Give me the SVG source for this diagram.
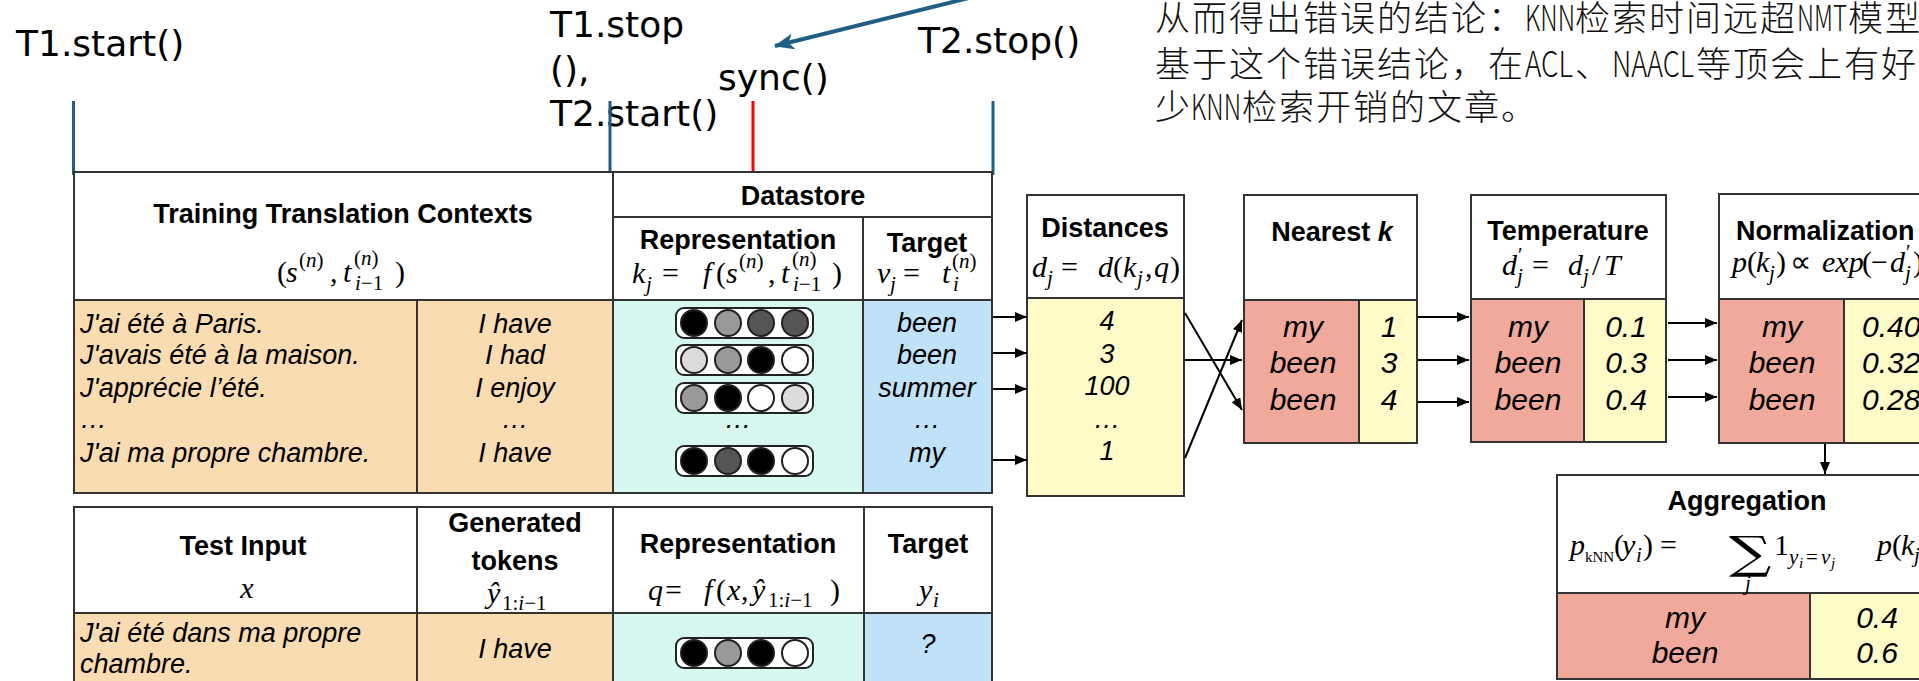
<svg xmlns="http://www.w3.org/2000/svg" width="1919" height="681" viewBox="0 0 1919 681">
  <style>
    .note { font-family: "DejaVu Sans", sans-serif; font-size: 36px; fill: #000; }
    .zh { font-family: "Noto Sans CJK SC", sans-serif; font-size: 35px; font-weight: 300; letter-spacing: 2px; fill: #111; }
    .zh .lat { letter-spacing: 0; }
    .hd { font-family: "Liberation Sans", Arial, sans-serif; font-weight: bold; font-size: 27px; text-anchor: middle; fill: #000; }
    .dt { font-family: "Liberation Sans", Arial, sans-serif; font-style: italic; font-size: 27px; fill: #000; }
    .dv { font-family: "Liberation Sans", Arial, sans-serif; font-style: italic; font-size: 30px; fill: #000; text-anchor: middle; }
    .c { text-anchor: middle; }
    .hd.l, .dv.l { text-anchor: start; }
    .mr { font-family: "Liberation Serif", "Times New Roman", serif; font-size: 30px; font-style: normal; fill: #000; }
    .it { font-style: italic; }
    .sc { font-size: 21px; }
    .ss { font-size: 15px; }
    .op { font-family: "DejaVu Serif", serif; font-size: 44px; font-style: normal; fill: #000; }
    .cell { stroke: #333; stroke-width: 2; }
    .w { fill: #fff; }
    .or { fill: #f9dcb2; }
    .cy { fill: #d6f8f0; }
    .bl { fill: #c0e2f9; }
    .ye { fill: #fefbc9; }
    .rd { fill: #f0a99b; }
    .vec { fill: #fff; stroke: #222; stroke-width: 2; }
    .dot { stroke: #222; stroke-width: 2; }
    .k0 { fill: #000; }
    .k1 { fill: #555; }
    .k2 { fill: #999; }
    .k3 { fill: #dcdcdc; }
    .k4 { fill: #fff; }
    .flow { stroke: #000; stroke-width: 2; fill: none; marker-end: url(#ah); }
    .tick { stroke: #1d5f86; stroke-width: 3; }
  </style>
  <defs>
    <marker id="ah" viewBox="0 0 12 10" refX="12" refY="5" markerWidth="12" markerHeight="10" markerUnits="userSpaceOnUse" orient="auto">
      <path d="M0,0 L12,5 L0,10 z" fill="#000"/>
    </marker>
    <marker id="ahb" viewBox="0 0 20 16" refX="19" refY="8" markerWidth="20" markerHeight="16" markerUnits="userSpaceOnUse" orient="auto">
      <path d="M0,0 L20,8 L0,16 L5,8 z" fill="#1d5f86"/>
    </marker>
    <g id="vecbox"><rect class="vec" x="0" y="0" width="137" height="30" rx="8"/></g>
  </defs>

  <rect width="1919" height="681" fill="#fff"/>

  <!-- timing annotations above the figure -->
  <g id="timing">
    <text class="note" x="16" y="56">T1.start()</text>
    <text class="note" x="550" y="37">T1.stop</text>
    <text class="note" x="550" y="82">(),</text>
    <text class="note" x="550" y="126">T2.start()</text>
    <text class="note" x="718" y="90">sync()</text>
    <text class="note" x="918" y="53">T2.stop()</text>
    <line class="tick" x1="73.5" y1="101" x2="73.5" y2="175"/>
    <line class="tick" x1="610" y1="101" x2="610" y2="175"/>
    <line class="tick" x1="993" y1="101" x2="993" y2="175"/>
    <line x1="753" y1="101" x2="753" y2="173" stroke="#ff0000" stroke-width="3"/>
  </g>

  <!-- commentary text, top right -->
  <g id="comment">
    <text class="zh" y="31"><tspan x="1155">从而得出错误的结论：</tspan><tspan class="lat" x="1525" textLength="50" lengthAdjust="spacingAndGlyphs">KNN</tspan><tspan x="1575">检索时间远超</tspan><tspan class="lat" x="1797" textLength="50" lengthAdjust="spacingAndGlyphs">NMT</tspan><tspan x="1848">模型</tspan></text>
    <text class="zh" y="77"><tspan x="1155">基于这个错误结论，在</tspan><tspan class="lat" x="1525" textLength="48" lengthAdjust="spacingAndGlyphs">ACL</tspan><tspan x="1575">、</tspan><tspan class="lat" x="1612" textLength="82" lengthAdjust="spacingAndGlyphs">NAACL</tspan><tspan x="1696">等顶会上有好</tspan></text>
    <text class="zh" y="120"><tspan x="1155">少</tspan><tspan class="lat" x="1191" textLength="50" lengthAdjust="spacingAndGlyphs">KNN</tspan><tspan x="1242">检索开销的文章。</tspan></text>
  </g>

  <!-- training contexts -->
  <g id="training">
    <rect class="cell w" x="74" y="172" width="539" height="128"/>
    <rect class="cell or" x="74" y="300" width="539" height="193"/>
    <line class="cell" x1="417" y1="300" x2="417" y2="493"/>
    <text class="hd" x="343" y="223">Training Translation Contexts</text>
    <text class="mr" y="282"><tspan x="277">(</tspan><tspan class="it" x="286">s</tspan><tspan class="sc" x="299" y="267">(<tspan class="it">n</tspan>)</tspan><tspan x="330" y="282">,</tspan><tspan class="it" x="343">t</tspan><tspan class="sc" x="354" y="265">(<tspan class="it">n</tspan>)</tspan><tspan class="sc" x="355" y="290"><tspan class="it">i</tspan>−1</tspan><tspan x="395" y="282">)</tspan></text>
    <text class="dt" x="80" y="333">J'ai été à Paris.</text>
    <text class="dt" x="80" y="364">J'avais été à la maison.</text>
    <text class="dt" x="80" y="397">J'apprécie l’été.</text>
    <text class="dt" x="80" y="428">…</text>
    <text class="dt" x="80" y="462">J'ai ma propre chambre.</text>
    <text class="dt c" x="515" y="333">I have</text>
    <text class="dt c" x="515" y="364">I had</text>
    <text class="dt c" x="515" y="397">I enjoy</text>
    <text class="dt c" x="515" y="428">…</text>
    <text class="dt c" x="515" y="462">I have</text>
  </g>

  <!-- datastore -->
  <g id="datastore">
    <rect class="cell w" x="613" y="172" width="379" height="45"/>
    <rect class="cell w" x="613" y="217" width="379" height="83"/>
    <line class="cell" x1="863" y1="217" x2="863" y2="300"/>
    <rect class="cell cy" x="613" y="300" width="250" height="193"/>
    <rect class="cell bl" x="863" y="300" width="129" height="193"/>
    <text class="hd" x="803" y="205">Datastore</text>
    <text class="hd" x="738" y="249">Representation</text>
    <text class="hd" x="927" y="252">Target</text>
    <text class="mr" y="283"><tspan class="it" x="632">k</tspan><tspan class="sc it" x="646" y="291">j</tspan><tspan x="662" y="283">=</tspan><tspan class="it" x="703">f</tspan><tspan x="716">(</tspan><tspan class="it" x="726">s</tspan><tspan class="sc" x="739" y="268">(<tspan class="it">n</tspan>)</tspan><tspan x="768" y="283">,</tspan><tspan class="it" x="781">t</tspan><tspan class="sc" x="792" y="266">(<tspan class="it">n</tspan>)</tspan><tspan class="sc" x="793" y="291"><tspan class="it">i</tspan>−1</tspan><tspan x="832" y="283">)</tspan></text>
    <text class="mr" y="283"><tspan class="it" x="877">v</tspan><tspan class="sc it" x="890" y="291">j</tspan><tspan x="903" y="283">=</tspan><tspan class="it" x="942">t</tspan><tspan class="sc" x="952" y="268">(<tspan class="it">n</tspan>)</tspan><tspan class="sc it" x="953" y="291">i</tspan></text>

    <use href="#vecbox" x="676" y="308"/>
    <circle class="dot k0" cx="694" cy="323" r="13"/><circle class="dot k2" cx="728" cy="323" r="13"/><circle class="dot k1" cx="761" cy="323" r="13"/><circle class="dot k1" cx="795" cy="323" r="13"/>
    <use href="#vecbox" x="676" y="345"/>
    <circle class="dot k3" cx="694" cy="360" r="13"/><circle class="dot k2" cx="728" cy="360" r="13"/><circle class="dot k0" cx="761" cy="360" r="13"/><circle class="dot k4" cx="795" cy="360" r="13"/>
    <use href="#vecbox" x="676" y="383"/>
    <circle class="dot k2" cx="694" cy="398" r="13"/><circle class="dot k0" cx="728" cy="398" r="13"/><circle class="dot k4" cx="761" cy="398" r="13"/><circle class="dot k3" cx="795" cy="398" r="13"/>
    <text class="dt c" x="738" y="428">…</text>
    <use href="#vecbox" x="676" y="446"/>
    <circle class="dot k0" cx="694" cy="461" r="13"/><circle class="dot k1" cx="728" cy="461" r="13"/><circle class="dot k0" cx="761" cy="461" r="13"/><circle class="dot k4" cx="795" cy="461" r="13"/>

    <text class="dt c" x="927" y="332">been</text>
    <text class="dt c" x="927" y="364">been</text>
    <text class="dt c" x="927" y="397">summer</text>
    <text class="dt c" x="927" y="428">…</text>
    <text class="dt c" x="927" y="462">my</text>
  </g>

  <!-- test input -->
  <g id="test">
    <rect class="cell w" x="74" y="507" width="918" height="106"/>
    <rect class="cell or" x="74" y="613" width="539" height="90"/>
    <rect class="cell cy" x="613" y="613" width="251" height="90"/>
    <rect class="cell bl" x="864" y="613" width="128" height="90"/>
    <line class="cell" x1="417" y1="507" x2="417" y2="703"/>
    <line class="cell" x1="613" y1="507" x2="613" y2="613"/>
    <line class="cell" x1="864" y1="507" x2="864" y2="613"/>
    <text class="hd" x="243" y="555">Test Input</text>
    <text class="mr it c" x="247" y="598">x</text>
    <text class="hd" x="515" y="532">Generated</text>
    <text class="hd" x="515" y="570">tokens</text>
    <text class="mr" y="603"><tspan class="it" x="487">ŷ</tspan><tspan class="sc" x="502" y="610">1:<tspan class="it">i</tspan>−1</tspan></text>
    <text class="hd" x="738" y="553">Representation</text>
    <text class="hd" x="928" y="553">Target</text>
    <text class="mr" y="600"><tspan class="it" x="648">q</tspan><tspan x="665">=</tspan><tspan class="it" x="704">f</tspan><tspan x="716">(</tspan><tspan class="it" x="727">x</tspan><tspan x="741">,</tspan><tspan class="it" x="752">ŷ</tspan><tspan class="sc" x="768" y="607">1:<tspan class="it">i</tspan>−1</tspan><tspan x="830" y="600">)</tspan></text>
    <text class="mr" y="600"><tspan class="it" x="919">y</tspan><tspan class="sc it" x="933" y="607">i</tspan></text>
    <text class="dt" x="80" y="642">J'ai été dans ma propre</text>
    <text class="dt" x="80" y="673">chambre.</text>
    <text class="dt c" x="515" y="658">I have</text>
    <use href="#vecbox" x="676" y="638"/>
    <circle class="dot k0" cx="694" cy="653" r="13"/><circle class="dot k2" cx="728" cy="653" r="13"/><circle class="dot k0" cx="761" cy="653" r="13"/><circle class="dot k4" cx="795" cy="653" r="13"/>
    <text class="dt c" x="928" y="653">?</text>
  </g>

  <!-- distances -->
  <g id="distances">
    <rect class="cell w" x="1027" y="195" width="157" height="103"/>
    <rect class="cell ye" x="1027" y="298" width="157" height="198"/>
    <text class="hd" x="1105" y="237">Distances</text>
    <text class="mr" y="277"><tspan class="it" x="1032">d</tspan><tspan class="sc it" x="1047" y="285">j</tspan><tspan x="1061" y="277">=</tspan><tspan class="it" x="1098">d</tspan><tspan x="1113">(</tspan><tspan class="it" x="1123">k</tspan><tspan class="sc it" x="1137" y="285">j</tspan><tspan x="1145" y="277">,</tspan><tspan class="it" x="1154">q</tspan><tspan x="1170">)</tspan></text>
    <text class="dt c" x="1107" y="330">4</text>
    <text class="dt c" x="1107" y="363">3</text>
    <text class="dt c" x="1107" y="395">100</text>
    <text class="dt c" x="1107" y="428">…</text>
    <text class="dt c" x="1107" y="460">1</text>
  </g>

  <!-- nearest k -->
  <g id="nearest">
    <rect class="cell w" x="1244" y="195" width="173" height="105"/>
    <rect class="cell rd" x="1244" y="300" width="115" height="143"/>
    <rect class="cell ye" x="1359" y="300" width="58" height="143"/>
    <text class="hd" x="1332" y="241">Nearest <tspan font-style="italic">k</tspan></text>
    <text class="dv" x="1303" y="337">my</text>
    <text class="dv" x="1303" y="373">been</text>
    <text class="dv" x="1303" y="410">been</text>
    <text class="dv" x="1389" y="337">1</text>
    <text class="dv" x="1389" y="373">3</text>
    <text class="dv" x="1389" y="410">4</text>
  </g>

  <!-- temperature -->
  <g id="temperature">
    <rect class="cell w" x="1471" y="195" width="195" height="104"/>
    <rect class="cell rd" x="1471" y="299" width="113" height="143"/>
    <rect class="cell ye" x="1584" y="299" width="82" height="143"/>
    <text class="hd" x="1568" y="240">Temperature</text>
    <text class="mr" y="275"><tspan class="it" x="1502">d</tspan><tspan class="sc" x="1518" y="262">′</tspan><tspan class="sc it" x="1517" y="283">j</tspan><tspan x="1532" y="275">=</tspan><tspan class="it" x="1568">d</tspan><tspan class="sc it" x="1583" y="283">j</tspan><tspan x="1592" y="275">/</tspan><tspan class="it" x="1604">T</tspan></text>
    <text class="dv" x="1528" y="337">my</text>
    <text class="dv" x="1528" y="373">been</text>
    <text class="dv" x="1528" y="410">been</text>
    <text class="dv" x="1626" y="337">0.1</text>
    <text class="dv" x="1626" y="373">0.3</text>
    <text class="dv" x="1626" y="410">0.4</text>
  </g>

  <!-- normalization -->
  <g id="normalization">
    <rect class="cell w" x="1719" y="194" width="230" height="105"/>
    <rect class="cell rd" x="1719" y="299" width="125" height="144"/>
    <rect class="cell ye" x="1844" y="299" width="105" height="144"/>
    <text class="hd l" x="1736" y="240">Normalization</text>
    <text class="mr" y="272"><tspan class="it" x="1732">p</tspan><tspan x="1747">(</tspan><tspan class="it" x="1756">k</tspan><tspan class="sc it" x="1769" y="280">j</tspan><tspan x="1776" y="272">)</tspan><tspan x="1790">∝</tspan><tspan class="it" x="1822">exp</tspan><tspan x="1862">(</tspan><tspan x="1871">−</tspan><tspan class="it" x="1890">d</tspan><tspan class="sc" x="1906" y="259">′</tspan><tspan class="sc it" x="1905" y="280">j</tspan><tspan x="1913" y="272">)</tspan></text>
    <text class="dv" x="1782" y="337">my</text>
    <text class="dv" x="1782" y="373">been</text>
    <text class="dv" x="1782" y="410">been</text>
    <text class="dv l" x="1862" y="337">0.40</text>
    <text class="dv l" x="1862" y="373">0.32</text>
    <text class="dv l" x="1862" y="410">0.28</text>
  </g>

  <!-- aggregation -->
  <g id="aggregation">
    <rect class="cell w" x="1557" y="475" width="392" height="118"/>
    <rect class="cell rd" x="1557" y="593" width="253" height="86"/>
    <rect class="cell ye" x="1810" y="593" width="139" height="86"/>
    <text class="hd" x="1747" y="510">Aggregation</text>
    <text class="mr" y="555"><tspan class="it" x="1570">p</tspan><tspan class="ss" x="1585" y="562">kNN</tspan><tspan x="1614" y="555">(</tspan><tspan class="it" x="1622">y</tspan><tspan class="sc it" x="1636" y="562">i</tspan><tspan x="1643" y="555">)</tspan><tspan x="1660">=</tspan><tspan class="sc it" x="1745" y="590">j</tspan><tspan x="1774" y="555">1</tspan><tspan class="sc it" x="1789" y="564">y</tspan><tspan class="ss it" x="1799" y="568">i</tspan><tspan class="sc" x="1806" y="564">=</tspan><tspan class="sc it" x="1821">v</tspan><tspan class="ss it" x="1831" y="568">j</tspan><tspan class="it" x="1877" y="555">p</tspan><tspan x="1892">(</tspan><tspan class="it" x="1901">k</tspan><tspan class="sc it" x="1914" y="562">j</tspan></text>
    <!-- large summation sign, widened to display-style proportions -->
    <text class="op" transform="translate(1729,568) scale(1.35,1.02)">∑</text>
    <text class="dv" x="1685" y="628">my</text>
    <text class="dv" x="1685" y="663">been</text>
    <text class="dv" x="1877" y="628">0.4</text>
    <text class="dv" x="1877" y="663">0.6</text>
  </g>

  <!-- connectors -->
  <g id="connectors">
    <line x1="1110" y1="-37" x2="775" y2="46" stroke="#1d5f86" stroke-width="4" marker-end="url(#ahb)"/>
    <line class="flow" x1="993" y1="317" x2="1027" y2="317"/>
    <line class="flow" x1="993" y1="353" x2="1027" y2="353"/>
    <line class="flow" x1="993" y1="389" x2="1027" y2="389"/>
    <line class="flow" x1="993" y1="460" x2="1027" y2="460"/>
    <line class="flow" x1="1185" y1="313" x2="1242" y2="410"/>
    <line class="flow" x1="1185" y1="360" x2="1242" y2="360"/>
    <line class="flow" x1="1185" y1="458" x2="1242" y2="320"/>
    <line class="flow" x1="1418" y1="317" x2="1469" y2="317"/>
    <line class="flow" x1="1418" y1="360" x2="1469" y2="360"/>
    <line class="flow" x1="1418" y1="402" x2="1469" y2="402"/>
    <line class="flow" x1="1668" y1="323" x2="1717" y2="323"/>
    <line class="flow" x1="1668" y1="360" x2="1717" y2="360"/>
    <line class="flow" x1="1668" y1="397" x2="1717" y2="397"/>
    <line class="flow" x1="1825" y1="444" x2="1825" y2="474"/>
  </g>
</svg>
